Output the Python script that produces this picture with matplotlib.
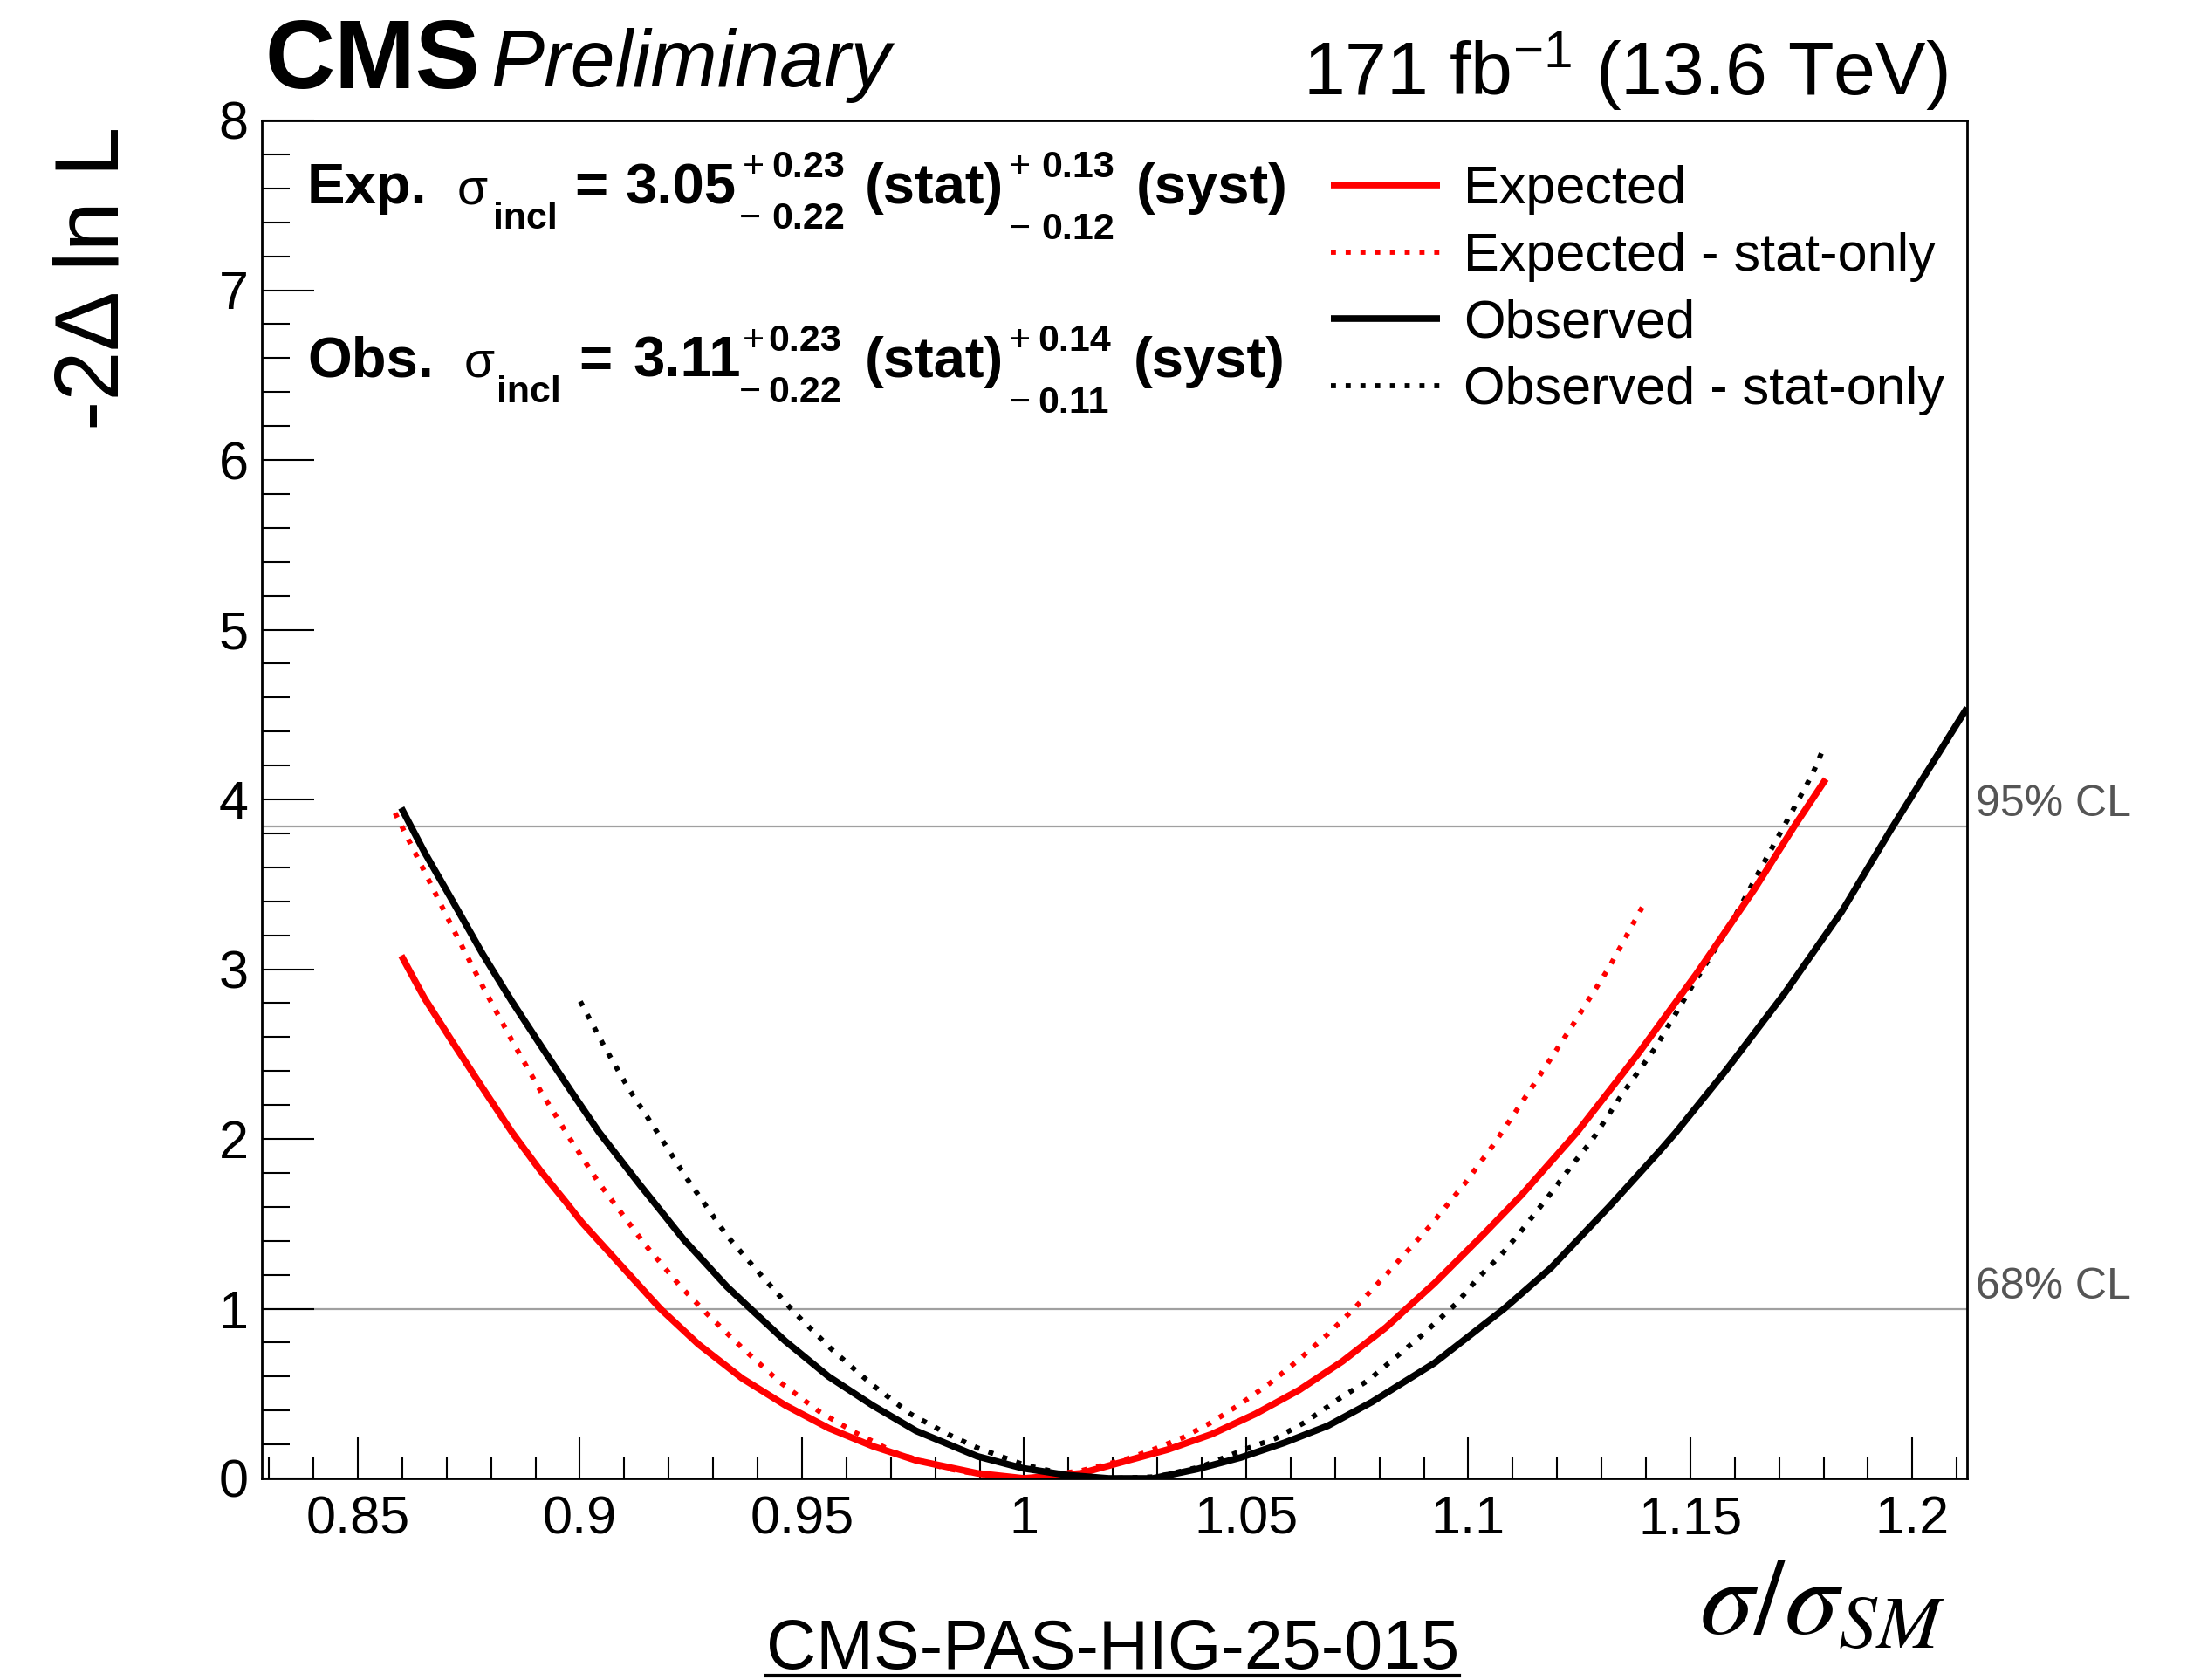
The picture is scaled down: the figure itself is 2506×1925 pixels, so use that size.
import matplotlib
matplotlib.use('Agg')
import matplotlib.pyplot as plt
from matplotlib.ticker import FixedLocator, AutoMinorLocator
from matplotlib.lines import Line2D

plt.rcParams['font.family'] = ['Liberation Sans', 'DejaVu Sans']
plt.rcParams['mathtext.fontset'] = 'custom'
plt.rcParams['mathtext.rm'] = 'Liberation Sans'
plt.rcParams['mathtext.it'] = 'Liberation Sans:italic'
plt.rcParams['mathtext.bf'] = 'Liberation Sans:bold'
plt.rcParams['mathtext.sf'] = 'Liberation Sans'

# ---------------- data ----------------
exp_x = [0.8598, 0.8650, 0.8716, 0.8781, 0.8847, 0.8912, 0.8971, 0.9004, 0.9070, 0.9181,
         0.9267, 0.9365, 0.9463, 0.9561, 0.9659, 0.9757, 0.9895, 1.0000, 1.0128, 1.0226,
         1.0324, 1.0422, 1.0521, 1.0619, 1.0717, 1.0815, 1.0861, 1.0924, 1.1035, 1.1120,
         1.1245, 1.1382, 1.1513, 1.1644, 1.1736, 1.1805]
exp_y = [3.08, 2.83, 2.56, 2.30, 2.04, 1.81, 1.62, 1.51, 1.32, 1.00,
         0.79, 0.59, 0.43, 0.295, 0.19, 0.106, 0.03, 0.00, 0.03, 0.10,
         0.17, 0.26, 0.38, 0.52, 0.69, 0.89, 1.00, 1.15, 1.44, 1.67,
         2.04, 2.50, 2.97, 3.47, 3.85, 4.12]

exp_stat_x = [0.8584, 0.8630, 0.8676, 0.8716, 0.8781, 0.8847, 0.8912, 0.8978, 0.9043, 0.9149,
              0.9227, 0.9286, 0.9365, 0.9449, 0.9541, 0.9620, 0.9711, 0.9822, 0.9895, 1.0000,
              1.0128, 1.0226, 1.0291, 1.0357, 1.0422, 1.0488, 1.0553, 1.0619, 1.0684, 1.0743,
              1.0815, 1.0915, 1.0996, 1.1058, 1.1150, 1.1235, 1.1317, 1.1395]
exp_stat_y = [3.92, 3.68, 3.44, 3.23, 2.90, 2.58, 2.28, 2.00, 1.74, 1.37,
              1.13, 0.97, 0.77, 0.57, 0.39, 0.27, 0.15, 0.06, 0.025, 0.00,
              0.045, 0.11, 0.17, 0.24, 0.33, 0.44, 0.56, 0.70, 0.85, 1.00,
              1.20, 1.49, 1.75, 1.97, 2.33, 2.67, 3.01, 3.38]

obs_x = [0.8598, 0.8650, 0.8716, 0.8781, 0.8847, 0.8912, 0.8978, 0.9043, 0.9135, 0.9233,
         0.9331, 0.9384, 0.9462, 0.9560, 0.9659, 0.9757, 0.9895, 0.9997, 1.0095, 1.0190,
         1.0290, 1.0390, 1.0488, 1.0586, 1.0684, 1.0783, 1.0924, 1.1081, 1.1186, 1.1317,
         1.1428, 1.1468, 1.1579, 1.1710, 1.1841, 1.1951, 1.2123]
obs_y = [3.95, 3.69, 3.39, 3.09, 2.81, 2.55, 2.29, 2.04, 1.73, 1.41,
         1.13, 1.00, 0.81, 0.60, 0.43, 0.28, 0.13, 0.06, 0.02, 0.00,
         0.00, 0.055, 0.123, 0.21, 0.31, 0.45, 0.68, 1.00, 1.24, 1.60,
         1.92, 2.04, 2.40, 2.85, 3.34, 3.82, 4.54]

obs_stat_x = [0.9001, 0.9056, 0.9109, 0.9174, 0.9240, 0.9331, 0.9397, 0.9482, 0.9567, 0.9659,
              0.9744, 0.9829, 0.9895, 1.0000, 1.0100, 1.0200, 1.0300, 1.0400, 1.0501, 1.0566,
              1.0632, 1.0710, 1.0776, 1.0835, 1.0894, 1.0973, 1.1022, 1.1075, 1.1120, 1.1186,
              1.1235, 1.1278, 1.1343, 1.1422, 1.1504, 1.1592, 1.1664, 1.1723, 1.1775, 1.1798]
obs_stat_y = [2.81, 2.54, 2.30, 2.04, 1.77, 1.43, 1.23, 0.98, 0.76, 0.55,
              0.38, 0.26, 0.18, 0.08, 0.02, 0.00, 0.01, 0.07, 0.175, 0.235,
              0.33, 0.47, 0.58, 0.71, 0.84, 1.03, 1.18, 1.32, 1.46, 1.68,
              1.85, 1.99, 2.25, 2.54, 2.90, 3.27, 3.62, 3.90, 4.15, 4.29]

series_labels = ['Expected', 'Expected - stat-only', 'Observed', 'Observed - stat-only']

cl_values = [1.0, 3.84]
cl_labels = ['68% CL', '95% CL']

x_ticks = [0.85, 0.90, 0.95, 1.00, 1.05, 1.10, 1.15, 1.20]
x_ticklabels = ['0.85', '0.9', '0.95', '1', '1.05', '1.1', '1.15', '1.2']
y_ticks = [0, 1, 2, 3, 4, 5, 6, 7, 8]

exp_result = [3.05, 0.23, 0.22, 0.13, 0.12]   # central, +stat, -stat, +syst, -syst
obs_result = [3.11, 0.23, 0.22, 0.14, 0.11]

# ---------------- figure ----------------
W, H = 2506, 1925
fig = plt.figure(figsize=(W / 100, H / 100), dpi=100)
ax = fig.add_axes([300 / W, 1 - 1694 / H, (2254 - 300) / W, (1694 - 138) / H])

dotted = (0, (1, 1.9))
for v in cl_values:
    ax.axhline(v, color='#a0a0a0', lw=1.6, zorder=1)

common = dict(solid_joinstyle='round', solid_capstyle='butt')
l_es, = ax.plot(exp_stat_x, exp_stat_y, color='#ff0000', lw=4.2, ls=dotted,
                label=series_labels[1], zorder=3)
l_os, = ax.plot(obs_stat_x, obs_stat_y, color='black', lw=4.2, ls=dotted,
                label=series_labels[3], zorder=3)
l_e, = ax.plot(exp_x, exp_y, color='#ff0000', lw=5.5, label=series_labels[0], zorder=4, **common)
l_o, = ax.plot(obs_x, obs_y, color='black', lw=5.5, label=series_labels[2], zorder=4, **common)

ax.set_xlim(0.8284, 1.2123)
ax.set_ylim(0, 8)
ax.xaxis.set_major_locator(FixedLocator(x_ticks))
ax.set_xticklabels(x_ticklabels)
ax.yaxis.set_major_locator(FixedLocator(y_ticks))
ax.xaxis.set_minor_locator(AutoMinorLocator(5))
ax.yaxis.set_minor_locator(AutoMinorLocator(5))
ax.tick_params(which='both', direction='in', top=False, right=False, width=1.5, labelsize=44)
ax.tick_params(axis='x', which='major', length=34, pad=14)
ax.tick_params(axis='x', which='minor', length=17)
ax.tick_params(axis='y', which='major', length=43, pad=11)
ax.tick_params(axis='y', which='minor', length=23)
for s in ax.spines.values():
    s.set_linewidth(2)

# CL labels
for v, lab in zip(cl_values, cl_labels):
    ax.text(1.005, v + 0.06, lab, transform=ax.get_yaxis_transform(), fontsize=36,
            color='#555555', ha='left', va='baseline', clip_on=False)

# axis labels
ax.set_ylabel('-2Δ ln L', loc='top', fontsize=74)
ax.yaxis.set_label_coords(-0.073, 0.996)
ax.set_xlabel(r'$\sigma/\sigma_{SM}$', loc='right', fontsize=90, math_fontfamily='stix')
ax.xaxis.label.set_va('baseline')
ax.xaxis.set_label_coords(0.987, -0.115)


# summary texts (ROOT-like layout with stacked super/subscripts)
def put(xpx, ypx, s, size, weight='bold'):
    fig.text(xpx / W, 1 - ypx / H, s, fontsize=size, fontweight=weight,
             ha='left', va='baseline')


def summary(tag, v, base, xs):
    c, su, sd, yu, yd = v
    big, small = 47, 31
    put(xs[0], base, tag, big)
    put(xs[1], base, 'σ', 41, 'normal')
    put(xs[2], base + 29, 'incl', small)
    put(xs[3], base, '=', big)
    put(xs[4], base, f'{c:.2f}', big)
    put(xs[5], base - 30, '+', small, 'normal')
    put(xs[6], base - 30, f'{su:.2f}', small)
    put(xs[5] - 4, base + 29, '\u2212', small, 'normal')
    put(xs[6], base + 29, f'{sd:.2f}', small)
    put(xs[7], base, '(stat)', big)
    put(xs[8], base - 30, '+', small, 'normal')
    put(xs[9], base - 30, f'{yu:.2f}', small)
    put(xs[8], base + 41, '\u2212', small, 'normal')
    put(xs[9], base + 41, f'{yd:.2f}', small)
    put(xs[10], base, '(syst)', big)


summary('Exp.', exp_result, 233, [352, 524, 565, 658, 716, 851, 884, 991, 1156, 1193, 1302])
summary('Obs.', obs_result, 432, [352, 532, 569, 663, 725, 851, 880, 991, 1156, 1189, 1299])

# legend
ax.legend(handles=[l_e, l_es, l_o, l_os], loc='upper left', bbox_to_anchor=(0.627, 0.967),
          frameon=False, fontsize=44, handlelength=2.05, handletextpad=0.44,
          labelspacing=0.32, borderpad=0, borderaxespad=0)

# header
fig.text(303 / W, 1 - 101 / H, 'CMS', fontsize=80, fontweight='bold', ha='left', va='baseline')
fig.text(562 / W, 1 - 99 / H, 'Preliminary', fontsize=66, fontstyle='italic', ha='left', va='baseline')
fig.text(2232 / W, 1 - 109 / H, r'171 fb$^{-1}$ (13.6 TeV)', fontsize=62, ha='right', va='baseline')

# footer with underline
foot = fig.text(1275 / W, 1 - 1912 / H, 'CMS-PAS-HIG-25-015', fontsize=57, ha='center', va='baseline')
fig.canvas.draw()
bb = foot.get_window_extent(fig.canvas.get_renderer())
fig.add_artist(Line2D([bb.x0 / W, bb.x1 / W], [1 - 1920 / H, 1 - 1920 / H],
                      transform=fig.transFigure, color='black', lw=3))

fig.savefig('out.png', dpi=100)
